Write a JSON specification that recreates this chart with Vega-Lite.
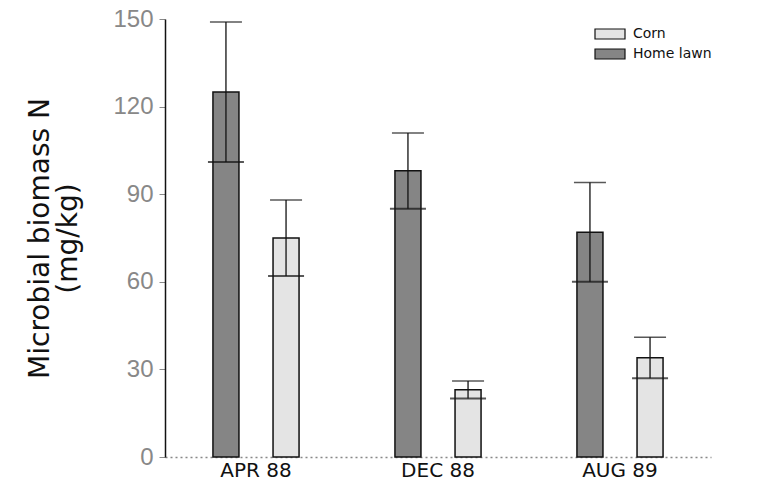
{
  "$schema": "https://vega.github.io/schema/vega-lite/v6.json",
  "width": 546,
  "height": 438,
  "autosize": {"type": "none"},
  "padding": {"left": 165, "top": 19, "right": 53, "bottom": 33},
  "background": "white",
  "config": {"view": {"stroke": null}},
  "data": {
    "values": [
      {"date": "APR 88", "type": "Home lawn", "mean": 125, "lo": 101, "hi": 149},
      {"date": "APR 88", "type": "Corn", "mean": 75, "lo": 62, "hi": 88},
      {"date": "DEC 88", "type": "Home lawn", "mean": 98, "lo": 85, "hi": 111},
      {"date": "DEC 88", "type": "Corn", "mean": 23, "lo": 20, "hi": 26},
      {"date": "AUG 89", "type": "Home lawn", "mean": 77, "lo": 60, "hi": 94},
      {"date": "AUG 89", "type": "Corn", "mean": 34, "lo": 27, "hi": 41}
    ]
  },
  "encoding": {
    "x": {
      "field": "date", "type": "nominal", "sort": ["APR 88", "DEC 88", "AUG 89"],
      "scale": {"paddingInner": 0.34, "paddingOuter": 0.17},
      "axis": {
        "title": null, "labelAngle": 0, "labelFontSize": 20, "labelFont": "DejaVu Sans",
        "labelColor": "#111", "labelPadding": 3, "ticks": false,
        "domainColor": "#888", "domainDash": [2, 3], "domainWidth": 1.5
      }
    },
    "xOffset": {
      "field": "type", "type": "nominal",
      "scale": {"domain": ["Home lawn", "Corn"], "paddingInner": 0.567, "paddingOuter": 0.283}
    }
  },
  "layer": [
    {
      "mark": {"type": "bar", "stroke": "#111", "strokeWidth": 1.5},
      "encoding": {
        "y": {
          "field": "mean", "type": "quantitative",
          "scale": {"domain": [0, 150], "nice": false},
          "axis": {
            "values": [0, 30, 60, 90, 120, 150],
            "title": ["Microbial biomass N", "(mg/kg)"],
            "titleFont": "DejaVu Sans", "titleFontSize": 28, "titleFontWeight": "normal",
            "titleColor": "#111", "titlePadding": 30, "titleLineHeight": 28,
            "labelFont": "Liberation Sans", "labelFontSize": 24, "labelColor": "#888",
            "labelPadding": 6, "tickSize": 6, "tickColor": "#888",
            "domainColor": "#111", "domainWidth": 1.5, "grid": false
          }
        },
        "color": {
          "field": "type", "type": "nominal",
          "scale": {"domain": ["Corn", "Home lawn"], "range": ["#e4e4e4", "#858585"]},
          "legend": {
            "title": null, "orient": "none", "legendX": 438, "legendY": 8,
            "symbolType": "M-3,-1H3V1H-3Z", "symbolSize": 100,
            "symbolStrokeColor": "#111", "symbolStrokeWidth": 1.2,
            "labelFont": "DejaVu Sans", "labelFontSize": 14, "labelColor": "#111",
            "rowPadding": 4, "labelOffset": 16
          }
        }
      }
    },
    {
      "mark": {"type": "rule", "color": "#111", "strokeWidth": 1.3},
      "encoding": {
        "y": {"field": "lo", "type": "quantitative"},
        "y2": {"field": "hi"}
      }
    },
    {
      "mark": {"type": "tick", "color": "#111", "size": 32, "thickness": 1.5},
      "encoding": {"y": {"field": "hi", "type": "quantitative"}}
    },
    {
      "mark": {"type": "tick", "color": "#111", "size": 36, "thickness": 2},
      "encoding": {"y": {"field": "lo", "type": "quantitative"}}
    }
  ]
}
